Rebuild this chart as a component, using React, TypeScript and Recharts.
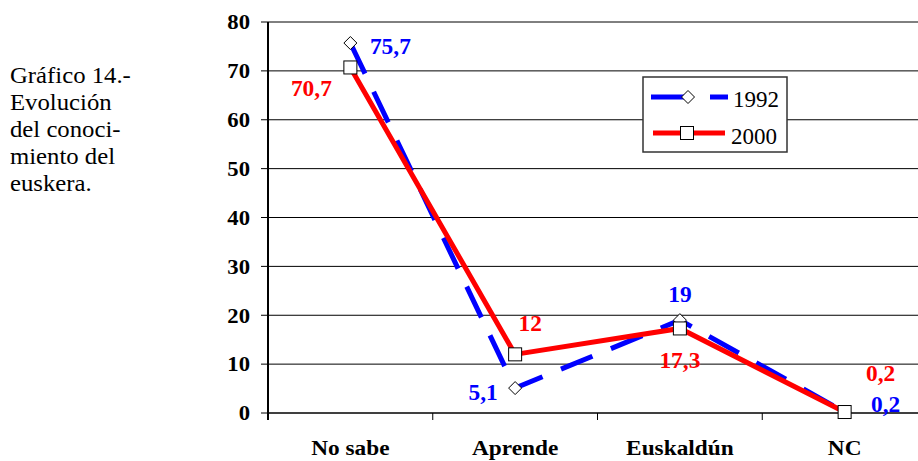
import React from "react";
import { LineChart, Line, XAxis, YAxis, CartesianGrid, Legend, LabelList } from "recharts";

const categories = ["No sabe", "Aprende", "Euskaldún", "NC"];
const values1992 = [75.7, 5.1, 19, 0.2];
const values2000 = [70.7, 12, 17.3, 0.2];
const yTicks = [0, 10, 20, 30, 40, 50, 60, 70, 80];
const titleLines = ["Gráfico 14.-", "Evolución", "del conoci-", "miento del", "euskera."];

const data = categories.map((name, i) => ({ name, y1992: values1992[i], y2000: values2000[i] }));

const FONT = "'Liberation Serif', 'Times New Roman', serif";
const BLUE = "#0000ff";
const RED = "#ff0000";

// chart geometry (page pixels)
const W = 940;
const H = 461;
const PLOT_LEFT = 268;
const PLOT_RIGHT = 927;
const PLOT_BOTTOM = 413;
const BAND = (PLOT_RIGHT - PLOT_LEFT) / categories.length;

// label nudges relative to each point
const offs1992 = [[40, 3], [-32, 4], [0, -26], [41, -8]];
const offs2000 = [[-39, 21], [15, -31], [0, 32], [36, -39]];

const fmt = (v: number) => String(v).replace(".", ",");

const SText = ({ x, y, anchor = "middle", size = 22, weight = "bold", fill = "#000", sx = 1, children }: any) => (
  <text
    transform={`translate(${x},${y}) scale(${sx},1)`}
    textAnchor={anchor}
    fontSize={size}
    fontWeight={weight}
    fill={fill}
    fontFamily={FONT}
    dy="0.35em"
  >
    {children}
  </text>
);

const YTick = ({ y, payload }: any) => (
  <SText x={250} y={y} anchor="end" size={21} sx={1.08}>
    {payload.value}
  </SText>
);

const XTick = ({ x, payload, index }: any) => (
  <g>
    <line x1={x - BAND / 2} y1={PLOT_BOTTOM} x2={x - BAND / 2} y2={PLOT_BOTTOM + 7} stroke="#000" strokeWidth={index === 0 ? 2 : 1} />
    <SText x={x} y={447} size={22} sx={1.06}>
      {payload.value}
    </SText>
  </g>
);

const Diamond = ({ cx, cy }: any) => (
  <path d={`M${cx},${cy - 6.5} L${cx + 6.5},${cy} L${cx},${cy + 6.5} L${cx - 6.5},${cy} Z`} fill="#fff" stroke="#000" strokeWidth={1} />
);

const Square = ({ cx, cy }: any) => (
  <rect x={cx - 6.5} y={cy - 6.5} width={13} height={13} fill="#fff" stroke="#000" strokeWidth={1} />
);

const makeLabel = (offs: number[][], color: string) => (p: any) => {
  const [dx, dy] = offs[p.index] || [0, 0];
  return (
    <SText key={p.index} x={p.x + dx} y={p.y + dy} size={22.5} fill={color} sx={1.04}>
      {fmt(p.value)}
    </SText>
  );
};

const LegendBox = () => (
  <svg width={146} height={77} style={{ display: "block" }}>
    <rect x={1} y={1} width={144} height={75} fill="#fff" stroke="#333" strokeWidth={1.5} />
    <line x1={9} y1={21} x2={86} y2={21} stroke={BLUE} strokeWidth={5} strokeDasharray="34 25" />
    <Diamond cx={46} cy={21} />
    <text x={91} y={31} fontFamily={FONT} fontSize={23} fill="#000">1992</text>
    <line x1={11} y1={57} x2={83} y2={57} stroke={RED} strokeWidth={5} />
    <Square cx={45} cy={57} />
    <text x={89} y={68} fontFamily={FONT} fontSize={23} fill="#000">2000</text>
  </svg>
);

export default function App() {
  return (
    <div style={{ position: "absolute", left: 0, top: 0, width: 918, height: 461, overflow: "hidden", background: "#fff" }}>
      <div
        style={{
          position: "absolute",
          left: 10,
          top: 62,
          fontFamily: FONT,
          fontSize: 24,
          lineHeight: "27px",
          color: "#000",
          transform: "scaleX(1.03)",
          transformOrigin: "left top",
          zIndex: 2,
        }}
      >
        {titleLines.map((t) => (
          <div key={t}>{t}</div>
        ))}
      </div>
      <LineChart width={W} height={H} data={data} margin={{ top: 22, right: W - PLOT_RIGHT, left: 0, bottom: 0 }}>
        <CartesianGrid vertical={false} stroke="#000" strokeWidth={1} />
        <XAxis
          dataKey="name"
          scale="band"
          height={H - PLOT_BOTTOM}
          interval={0}
          tickLine={false}
          axisLine={{ stroke: "#000", strokeWidth: 1 }}
          tick={<XTick />}
        />
        <YAxis
          width={PLOT_LEFT}
          domain={[0, 80]}
          ticks={yTicks}
          interval={0}
          tickSize={7}
          tickLine={{ stroke: "#000" }}
          axisLine={{ stroke: "#000", strokeWidth: 2 }}
          tick={<YTick />}
        />
        <Legend
          layout="horizontal"
          verticalAlign="middle"
          align="center"
          wrapperStyle={{ position: "absolute", left: 642, top: 76, width: 146, height: 77 }}
          content={() => <LegendBox />}
        />
        <Line
          dataKey="y1992"
          name="1992"
          stroke={BLUE}
          strokeWidth={5}
          strokeDasharray="34 20"
          dot={(p: any) => <Diamond key={p.index} cx={p.cx} cy={p.cy} />}
          isAnimationActive={false}
        >
          <LabelList dataKey="y1992" content={makeLabel(offs1992, BLUE)} />
        </Line>
        <Line
          dataKey="y2000"
          name="2000"
          stroke={RED}
          strokeWidth={5}
          dot={(p: any) => <Square key={p.index} cx={p.cx} cy={p.cy} />}
          isAnimationActive={false}
        >
          <LabelList dataKey="y2000" content={makeLabel(offs2000, RED)} />
        </Line>
      </LineChart>
    </div>
  );
}
